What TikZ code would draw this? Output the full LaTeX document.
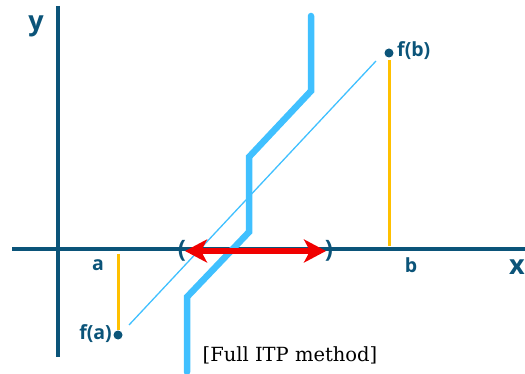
\documentclass[tikz,border=0pt]{standalone}
\usepackage{fontspec}
\newfontfamily\lab{Open Sans}
\newfontfamily\capfont{DejaVu Serif}
\usetikzlibrary{arrows.meta}
\definecolor{axisblue}{HTML}{0B5479}
\definecolor{lblue}{HTML}{40C0FF}
\definecolor{gold}{HTML}{FFC000}
\definecolor{redarrow}{HTML}{F00000}
\tikzset{
  axisline/.style={draw=axisblue,line width=4.5pt},
  lbl/.style={text=axisblue,font=\lab\bfseries\fontsize{19.5}{22}\selectfont,inner sep=0pt},
  axlbl/.style={text=axisblue,font=\lab\bfseries\fontsize{27}{30}\selectfont,inner sep=0pt},
  paren/.style={text=axisblue,font=\lab\bfseries\fontsize{24}{26}\selectfont,inner sep=0pt},
  goldline/.style={draw=gold,line width=3pt},
  dotnode/.style={circle,fill=axisblue,inner sep=0pt,minimum size=9pt},
}
\begin{document}
\begin{tikzpicture}[x=1pt,y=-1pt]
\useasboundingbox (0,0) rectangle (525,374);
% axes
\coordinate (xl) at (12,249);
\coordinate (xr) at (525,249);
\coordinate (yt) at (58,6);
\coordinate (yb) at (58,357);
\draw[axisline] (xl) -- (xr);
\draw[axisline] (yt) -- (yb);
\node[axlbl] (ylab) at (36,26) {y};
\node[axlbl] (xlab) at (517,267) {x};
% secant line
\coordinate (s1) at (129,325);
\coordinate (s2) at (376,61);
\draw[lblue,line width=1.3pt] (s1) -- (s2);
% function
\coordinate (p1) at (311,16);
\coordinate (p2) at (311,91);
\coordinate (p3) at (249,157);
\coordinate (p4) at (249,232);
\coordinate (p5) at (187,297);
\coordinate (p6) at (187,372);
\draw[lblue,line width=6.5pt,line cap=round,line join=miter] (p1) -- (p2) -- (p3) -- (p4) -- (p5) -- (p6);
% gold lines and dots
\coordinate (a0) at (118,254);
\node[dotnode] (fa) at (118,335) {};
\draw[goldline] (a0) -- (fa);
\coordinate (b0) at (389,246);
\node[dotnode] (fb) at (389,53) {};
\draw[goldline] (b0) -- ([yshift=-7pt]fb.center);
\node[lbl,anchor=east] (falab) at (112,334) {f(a)};
\node[lbl,anchor=west] (fblab) at (397,51) {f(b)};
\node[lbl] (alab) at (98,265) {a};
\node[lbl] (blab) at (411,265) {b};
% interval
\node[paren] (lp) at (182,251) {(};
\node[paren] (rp) at (329,251) {)};
\draw[redarrow,line width=5.5pt,{Stealth[length=22pt,width=23pt,inset=6pt]}-{Stealth[length=22pt,width=23pt,inset=6pt]}] ([xshift=3pt]lp.center) -- ([xshift=-3pt]rp.center);
% caption
\node[font=\capfont\fontsize{19.5}{22}\selectfont,inner sep=0pt] (cap) at (290,355) {[Full ITP method]};
\end{tikzpicture}
\end{document}
